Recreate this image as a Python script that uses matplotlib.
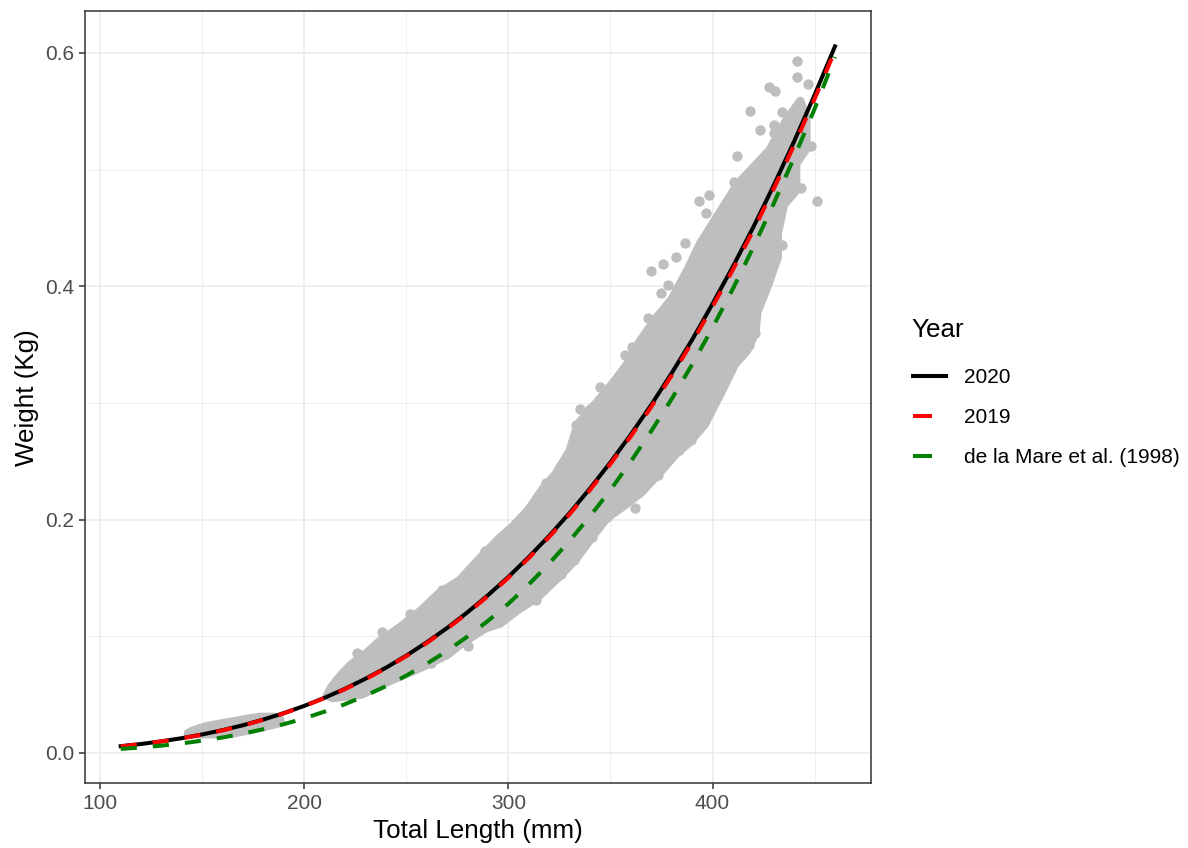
import matplotlib.pyplot as plt
from matplotlib.lines import Line2D

# Fitted length-weight curves (Total Length mm -> Weight kg)
length_mm = [110, 120, 130, 140, 150, 160, 170, 180, 190, 200, 210, 220,
             230, 240, 250, 260, 270, 280, 290, 300, 310, 320, 330, 340,
             350, 360, 370, 380, 390, 400, 410, 420, 430, 440, 450, 460]

weight_2020 = [0.0058, 0.0077, 0.0100, 0.0127, 0.0159, 0.0196, 0.0238, 0.0287, 0.0342,
               0.0404, 0.0474, 0.0551, 0.0637, 0.0731, 0.0835, 0.0949, 0.1072, 0.1207,
               0.1353, 0.1510, 0.1680, 0.1862, 0.2058, 0.2268, 0.2492, 0.2731, 0.2985,
               0.3256, 0.3542, 0.3850, 0.4170, 0.4508, 0.4866, 0.5243, 0.5640, 0.6057]

weight_2019 = [0.0057, 0.0076, 0.0099, 0.0126, 0.0157, 0.0194, 0.0236, 0.0285, 0.0340,
               0.0402, 0.0471, 0.0548, 0.0633, 0.0727, 0.0830, 0.0943, 0.1066, 0.1200,
               0.1345, 0.1502, 0.1671, 0.1852, 0.2047, 0.2255, 0.2478, 0.2715, 0.2967,
               0.3236, 0.3521, 0.3825, 0.4143, 0.4480, 0.4836, 0.5210, 0.5605, 0.6020]

weight_1998 = [0.0035, 0.0047, 0.0063, 0.0082, 0.0106, 0.0133, 0.0166, 0.0204, 0.0247,
               0.0297, 0.0355, 0.0419, 0.0492, 0.0573, 0.0664, 0.0765, 0.0876, 0.0999,
               0.1133, 0.1280, 0.1445, 0.1625, 0.1820, 0.2030, 0.2255, 0.2500, 0.2760,
               0.3035, 0.3330, 0.3645, 0.3980, 0.4335, 0.4710, 0.5105, 0.5520, 0.5965]

# Observed fish: outline of the dense part of the cloud (dot centres along the edge)
cloud_len = [211, 213, 218, 223, 230, 237, 247, 257, 266, 276, 286, 296, 302, 310,
             317, 323, 330, 334, 344, 352, 358, 364, 372, 380, 388, 394, 402, 412,
             420, 428, 436, 443,
             446, 446, 441, 441, 435, 432, 432, 427, 422, 421, 417, 411, 404, 396,
             388, 383, 373, 365, 356, 348, 341, 333, 326, 314, 305, 296, 289, 278,
             270, 257, 241, 228, 214]
cloud_wt = [0.049, 0.056, 0.067, 0.076, 0.085, 0.096, 0.108, 0.122, 0.137, 0.148, 0.167,
            0.185, 0.194, 0.209, 0.227, 0.239, 0.259, 0.282, 0.302, 0.319, 0.333, 0.352,
            0.372, 0.389, 0.415, 0.437, 0.459, 0.487, 0.502, 0.517, 0.542, 0.559,
            0.545, 0.518, 0.505, 0.482, 0.470, 0.445, 0.425, 0.400, 0.378, 0.360, 0.345,
            0.333, 0.308, 0.281, 0.265, 0.258, 0.238, 0.223, 0.211, 0.201, 0.185, 0.166,
            0.153, 0.133, 0.123, 0.111, 0.107, 0.095, 0.084, 0.073, 0.061, 0.050, 0.047]

# small group of juveniles
small_len = [143, 145, 152, 164.6, 174.3, 179, 185, 188, 188.5,
             187.5, 174.3, 164.6, 158, 143]
small_wt = [0.017, 0.019, 0.023, 0.027, 0.030, 0.031, 0.031, 0.029, 0.027,
            0.0254, 0.020, 0.0165, 0.016, 0.016]

# scattered fish outside the dense cloud
out_len = [441.3, 441.3, 446.9, 427.5, 430.4, 418.6, 434, 437.2, 423.5, 429.9, 429.9,
           448.2, 441.3, 412.1, 443.2, 451, 410.5, 393.5, 398.3, 396.7, 386.6, 375.7,
           370, 381.9, 434, 426.4, 378.2, 374.9, 357.1, 360.3, 368.4, 371.7, 345,
           346.6, 335.3, 340.1, 333.2, 318.3, 303.7, 296.5, 288.3, 267.3, 421, 417.8,
           416.1, 408.9, 403.2, 393.5, 389.5, 383.8, 373.3, 362, 350.6, 348.2, 341,
           336.9, 332, 325.6, 313.4, 313.4, 252, 238, 226, 280, 262]
out_wt = [0.593, 0.579, 0.573, 0.571, 0.567, 0.550, 0.549, 0.545, 0.534, 0.538, 0.531,
          0.520, 0.514, 0.512, 0.484, 0.473, 0.489, 0.473, 0.478, 0.463, 0.437, 0.419,
          0.413, 0.425, 0.435, 0.403, 0.401, 0.394, 0.341, 0.348, 0.373, 0.368, 0.314,
          0.304, 0.295, 0.295, 0.281, 0.231, 0.195, 0.184, 0.173, 0.140, 0.360, 0.350,
          0.347, 0.335, 0.311, 0.287, 0.268, 0.260, 0.238, 0.210, 0.214, 0.202, 0.185,
          0.178, 0.165, 0.153, 0.142, 0.131, 0.119, 0.104, 0.086, 0.092, 0.077]

years = ['2020', '2019', 'de la Mare et al. (1998)']
colors = ['black', 'red', 'green']

plt.rcParams['font.family'] = ['Liberation Sans', 'DejaVu Sans']

W, H = 1188, 848
fig = plt.figure(figsize=(W / 100, H / 100), dpi=100)
ax = fig.add_axes([0.07155, 0.0763, 0.7329 - 0.07155, 0.98703 - 0.0763])

# dense cloud drawn as a filled outline, stroked as wide as one dot
point_grey = '#BEBEBE'
ax.fill(cloud_len, cloud_wt, facecolor=point_grey, edgecolor=point_grey,
        lw=6, joinstyle='round', zorder=1)
ax.fill(small_len, small_wt, facecolor=point_grey, edgecolor=point_grey,
        lw=6, joinstyle='round', zorder=1)
ax.scatter(out_len, out_wt, s=56, color=point_grey, lw=0, zorder=1)

lw = 2.9
ax.plot(length_mm, weight_2020, color=colors[0], lw=lw, zorder=3)
ax.plot(length_mm, weight_2019, color=colors[1], lw=lw, dashes=(4, 4), zorder=4)
ax.plot(length_mm, weight_1998, color=colors[2], lw=lw, dashes=(4, 4), zorder=5)

ax.set_xlim(92.5, 477.5)
ax.set_ylim(-0.026, 0.636)
ax.set_xticks([100, 200, 300, 400])
ax.set_xticks([150, 250, 350, 450], minor=True)
ax.set_yticks([0.0, 0.2, 0.4, 0.6])
ax.set_yticklabels(['0.0', '0.2', '0.4', '0.6'])
ax.set_yticks([0.1, 0.3, 0.5], minor=True)

ax.grid(which='major', color='#EBEBEB', lw=1.1, zorder=0)
ax.grid(which='minor', color='#EBEBEB', lw=0.55, zorder=0)
ax.set_axisbelow(True)

for s in ax.spines.values():
    s.set_color('#333333')
    s.set_linewidth(1.1)
ax.tick_params(which='major', length=4.3, width=1.1, color='#333333',
               labelcolor='#4D4D4D', labelsize=15, pad=3.5)
ax.tick_params(which='minor', length=0)

ax.set_xlabel('Total Length (mm)', fontsize=18.7, labelpad=4)
ax.set_ylabel('Weight (Kg)', fontsize=18.7, labelpad=4.5)

# legend: title placed separately so the gap under it matches ggplot
fig.text(911 / W, 1 - 330 / H, 'Year', fontsize=18.7, ha='left', va='center')
handles = [Line2D([], [], color=colors[0], lw=lw),
           Line2D([], [], color=colors[1], lw=lw, dashes=(4.7, 6)),
           Line2D([], [], color=colors[2], lw=lw, dashes=(4.7, 6))]
fig.legend(handles, years, loc='center left', bbox_to_anchor=(913 / W, 1 - 417.5 / H),
           frameon=False, fontsize=15, handlelength=1.6, handletextpad=0.85,
           labelspacing=1.0, borderpad=0, borderaxespad=0)

fig.savefig('out.png', dpi=100)
